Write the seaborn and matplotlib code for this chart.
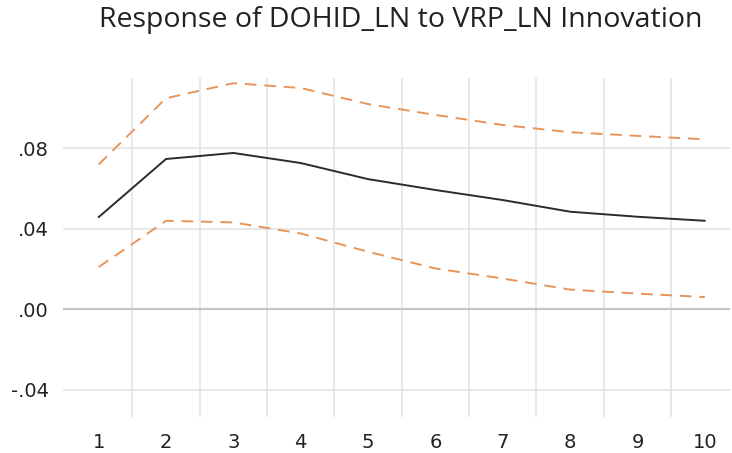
import matplotlib.pyplot as plt
import numpy as np
import pandas as pd
import seaborn as sns
from matplotlib.ticker import FixedLocator, FuncFormatter

periods = list(range(1, 11))
response = [0.0458, 0.0747, 0.0777, 0.0727, 0.0647, 0.0593, 0.0543, 0.0485, 0.0460, 0.0440]
upper = [0.0720, 0.1049, 0.1124, 0.1100, 0.1020, 0.0966, 0.0916, 0.0880, 0.0862, 0.0845]
lower = [0.0210, 0.0440, 0.0432, 0.0377, 0.0286, 0.0203, 0.0153, 0.0098, 0.0078, 0.0061]
y_ticks = [-0.04, 0.00, 0.04, 0.08]

df = pd.DataFrame({"period": periods, "response": response,
                   "upper": upper, "lower": lower})


def fmt(v, pos):
    s = f"{v:.2f}"
    return s.replace("0.", ".", 1)


sns.set_style("white")
fig = plt.figure(figsize=(7.32, 4.53), dpi=100)
ax = fig.add_axes([0.086, 0.08, 0.911, 0.748])

# grid: vertical lines between periods, horizontal at ticks
for x in np.arange(1.5, 10, 1):
    ax.axvline(x, color="#e4e4e4", lw=1.2, zorder=0)
for y in y_ticks:
    ax.axhline(y, color="#c4c4c4" if y == 0 else "#e4e4e4",
               lw=1.6 if y == 0 else 1.2, zorder=0)

sns.lineplot(data=df, x="period", y="upper", ax=ax, color="#e8955a",
             lw=1.4, linestyle=(0, (6, 4)))
sns.lineplot(data=df, x="period", y="lower", ax=ax, color="#e8955a",
             lw=1.4, linestyle=(0, (6, 4)))
sns.lineplot(data=df, x="period", y="response", ax=ax, color="#2b2b2b",
             lw=1.4)

ax.set_xlim(0.47, 10.37)
ax.set_ylim(-0.0534, 0.115)
ax.xaxis.set_major_locator(FixedLocator(periods))
ax.yaxis.set_major_locator(FixedLocator(y_ticks))
ax.yaxis.set_major_formatter(FuncFormatter(fmt))
ax.tick_params(length=0, labelsize=14, colors="#222222")
ax.tick_params(axis="y", pad=10)
ax.tick_params(axis="x", pad=12)
ax.set_xlabel("")
ax.set_ylabel("")
for s in ax.spines.values():
    s.set_visible(False)

fig.text(0.548, 0.956, "Response of DOHID_LN to VRP_LN Innovation",
         ha="center", va="center", fontsize=20.5,
         family=["Open Sans", "DejaVu Sans"], color="#222222")

fig.savefig("out.png", dpi=100)
